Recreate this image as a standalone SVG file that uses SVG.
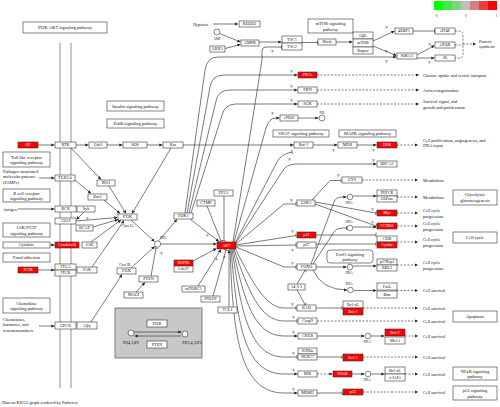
<svg xmlns="http://www.w3.org/2000/svg" width="500" height="407" viewBox="0 0 500 407">
<style>
.g{fill:#fff;stroke:#333;stroke-width:.6}
.r{fill:#ff0000;stroke:#333;stroke-width:.6}
.cp{fill:#fff;stroke:#333;stroke-width:.6}
.t{font-family:"Liberation Serif",serif;font-size:4.2px;text-anchor:middle;fill:#111}
.k{font-family:"Liberation Serif",serif;font-size:4.5px;text-anchor:middle;fill:#111}
.w{fill:#fff}
.s{font-family:"Liberation Serif",serif;font-size:4.3px;fill:#111}
.p{font-family:"Liberation Serif",serif;font-size:3.3px;fill:#111}
.c{fill:none;stroke:#333;stroke-width:.65}
.a{marker-end:url(#ar)}
.i{marker-end:url(#in)}
.d{stroke-dasharray:2 1.5}
</style>
<defs>
<marker id="ar" viewBox="0 0 10 10" refX="10" refY="5" markerWidth="3.2" markerHeight="3.2" orient="auto" markerUnits="userSpaceOnUse"><path d="M0,0L10,5L0,10z" fill="#222"/></marker>
<marker id="in" viewBox="0 0 4 10" refX="2" refY="5" markerWidth="1.6" markerHeight="4" orient="auto" markerUnits="userSpaceOnUse"><path d="M2,0V10" stroke="#222" stroke-width="1.5"/></marker>
</defs>
<rect width="500" height="407" fill="#fff"/>

<g id="legend">
<rect x="434" y="1" width="9" height="9" fill="#00ff00"/>
<rect x="443" y="1" width="9" height="9" fill="#3fe93f"/>
<rect x="452" y="1" width="9" height="9" fill="#7fd47f"/>
<rect x="461" y="1" width="9" height="9" fill="#bebebe"/>
<rect x="470" y="1" width="9" height="9" fill="#d47f7f"/>
<rect x="479" y="1" width="9" height="9" fill="#e93f3f"/>
<rect x="488" y="1" width="9" height="9" fill="#ff0000"/>
<text class="p" x="435" y="16.5">-1</text><text class="p" x="465" y="16.5">0</text><text class="p" x="495.5" y="16.5">1</text>
</g>

<g id="membrane" class="c">
<path d="M60,43V388M71,43V388" stroke="#555"/>
</g>

<g id="pathways">
<g id="pw_pi3k"><rect class="g" x="23" y="22" width="84" height="11"/><text class="k" x="65" y="29.2" font-size="4.8">PI3K-AKT signaling pathway</text></g>
<g id="pw_ins"><rect class="g" x="107" y="101" width="57" height="10"/><text class="k" x="135.5" y="107.5">Insulin signaling pathway</text></g>
<g id="pw_erbb"><rect class="g" x="107" y="119" width="57" height="9"/><text class="k" x="135.5" y="125">ErbB signaling pathway</text></g>
<g id="pw_mtor"><rect class="g" x="308" y="19" width="45" height="14"/><text class="k" x="330.5" y="25">mTOR signaling</text><text class="k" x="330.5" y="30.5">pathway</text></g>
<g id="pw_vegf"><rect class="g" x="273" y="130" width="56" height="7"/><text class="k" x="301" y="135">VEGF signaling pathway</text></g>
<g id="pw_mapk"><rect class="g" x="339" y="130" width="57" height="7"/><text class="k" x="367.5" y="135">MAPK signaling pathway</text></g>
<g id="pw_glyc"><rect class="g" x="453" y="190" width="44" height="15"/><text class="k" x="475" y="196">Glycolysis/</text><text class="k" x="475" y="201.5">gluconeogenesis</text></g>
<g id="pw_cc"><rect class="g" x="453" y="232" width="44" height="11"/><text class="k" x="475" y="239">Cell cycle</text></g>
<g id="pw_foxo"><rect class="g" x="327" y="250" width="46" height="13" rx="3"/><text class="k" x="350" y="255.5">FoxO signaling</text><text class="k" x="350" y="261">pathway</text></g>
<g id="pw_apop"><rect class="g" x="453" y="311" width="44" height="11"/><text class="k" x="475" y="318">Apoptosis</text></g>
<g id="pw_nfkb"><rect class="g" x="453" y="367" width="44" height="13"/><text class="k" x="475" y="372.5">NFκB signaling</text><text class="k" x="475" y="378">pathway</text></g>
<g id="pw_p53"><rect class="g" x="453" y="386" width="44" height="14"/><text class="k" x="475" y="392">p53 signaling</text><text class="k" x="475" y="397.5">pathway</text></g>
<g id="pw_tlr"><rect class="g" x="3" y="152" width="47" height="15"/><text class="k" x="26.5" y="158.5">Toll like receptor</text><text class="k" x="26.5" y="164">signaling pathway</text></g>
<g id="pw_bcr"><rect class="g" x="3" y="189" width="47" height="13"/><text class="k" x="26.5" y="194.5">B cell receptor</text><text class="k" x="26.5" y="200">signaling pathway</text></g>
<g id="pw_jak"><rect class="g" x="3" y="223" width="47" height="14"/><text class="k" x="26.5" y="229">JAK/STAT</text><text class="k" x="26.5" y="234.5">signaling pathway</text></g>
<g id="pw_fa"><rect class="g" x="3" y="253" width="47" height="9"/><text class="k" x="26.5" y="259">Focal adhesion</text></g>
<g id="pw_chem"><rect class="g" x="3" y="298" width="47" height="15"/><text class="k" x="26.5" y="304.5">Chemokine</text><text class="k" x="26.5" y="310">signaling pathway</text></g>
</g>

<g id="graybox">
<rect x="115" y="308" width="87" height="50" fill="#c8c8c8" stroke="#555" stroke-width=".7"/>
<g id="gb_pi3k"><rect class="g" x="147" y="320" width="20" height="7"/><text class="t" x="157" y="324.9">PI3K</text></g>
<g id="gb_pten"><rect class="g" x="147" y="341" width="20" height="7"/><text class="t" x="157" y="345.9">PTEN</text></g>
<g id="gb_pip2"><circle class="cp" cx="131" cy="333" r="3"/><text class="t" x="131" y="344" font-size="3.8">PI(4,5)P2</text></g>
<g id="gb_pip3"><circle class="cp" cx="185" cy="334" r="3"/><text class="t" x="192" y="344" font-size="3.8">PI(3,4,5)P3</text></g>
<path class="c a" d="M134,332H181.5"/>
<path class="c a" d="M181,336H134.5"/>
</g>

<g id="connectors" class="c">
<path class="a" d="M213,24H238"/>
<path class="a" d="M219.5,33.5L240.5,42"/>
<path class="a" d="M225,48.5L240.5,44.5"/>
<path class="a" d="M259,42H281.5"/>
<path class="i" d="M302,42.5H317.5"/>
<path class="a" d="M336,42H352.5"/>
<path class="a" d="M373,41L394.5,31"/>
<path class="a" d="M373,46L396.5,55.5"/>
<path class="i" d="M413,31H434.5"/>
<path class="a" d="M417,55L434.5,45.5"/>
<path class="a" d="M417,58H434.5"/>
<path class="d" d="M455,31H459Q463,31 463,35V54Q463,58 459,58H455M455,45H463"/>
<path class="d a" d="M463,44H476"/>
<path class="a" d="M298,118H318.5"/>
<path class="d a" d="M317,75H419"/>
<path class="d a" d="M317,90H419"/>
<path class="d a" d="M317,104H419"/>
<path class="a" d="M183,145H293.5"/>
<path class="a" d="M313,145H337.5"/>
<path class="a" d="M357,145H376.5"/>
<path class="d a" d="M397,145H418"/>
<path class="a" d="M185,213L205,70Q207,57 218,57H396.5"/>
<path class="a" d="M187,213L210,87Q212,75 224,75H297.5"/>
<path class="a" d="M189,213L216,101Q218,90 230,90H297.5"/>
<path class="a" d="M191,213L222,115Q225,104 236,104H297.5"/>
<path class="i" d="M233,242L262,60V51Q262,47 266,47H281.5"/>
<path class="a" d="M234,242L266,128Q269,118 276,118H279.5"/>
<path class="i" d="M235,243L277,162Q281,154 292,152"/>
<path class="a" d="M235,244L282,172Q286,164 296,164H376.5"/>
<path class="i" d="M236,244L284,204H296"/>
<path class="i" d="M236,245L296,235.5"/>
<path class="i" d="M236,246L296,245"/>
<path class="i" d="M236,247L284,267H296"/>
<path class="i" d="M235,248C252,282 266,308 284,308H296"/>
<path class="i" d="M234,249C248,290 260,321 284,321H297"/>
<path class="a" d="M233,249C244,300 254,336 284,336H297.5"/>
<path class="i" d="M232,249C241,310 249,357 284,357H297"/>
<path class="a" d="M231,249C237,320 243,374 284,374H297.5"/>
<path class="a" d="M230,249C233,330 238,393 284,393H297.5"/>
<path class="a" d="M38,145H54.5"/>
<path class="a" d="M76,145H88.5"/>
<path class="a" d="M107,145H122.5"/>
<path class="a" d="M147,145H162.5"/>
<path class="a" d="M71,148L101,179.5"/>
<path class="a" d="M109,186L126,213.5"/>
<path class="a" d="M171,148L132,213.5"/>
<path class="a" d="M39,178H54.5"/>
<path class="a" d="M75,180L91,193.5"/>
<path class="a" d="M104,200L120,213.5"/>
<path class="a" d="M18,209H54.5"/>
<path class="a" d="M84,212L76.5,219.5"/>
<path class="a" d="M76,221L117.5,217.5"/>
<path class="a" d="M93,227L118,219.5"/>
<path class="a" d="M50,245H54.5"/>
<path class="a" d="M91,242L121,220"/>
<path class="a" d="M38,270H54.5"/>
<path class="a" d="M92,267L124,220.5"/>
<path class="a" d="M39,326H54.5"/>
<path class="a" d="M91,322L122,274.5"/>
<path class="a" d="M131,220L154.5,241.5"/>
<path class="a" d="M131,268L154.5,246.5"/>
<path class="i" d="M151,276L156,248"/>
<path class="a" d="M136,292L145,282.5"/>
<path class="a" d="M159,240.5L177,219.5"/>
<path class="a" d="M160.5,244H216.5"/>
<path class="a" d="M190,219L219,241.5"/>
<path class="i" d="M207,206L221,241"/>
<path class="i" d="M224,196V241"/>
<path class="a" d="M193,261L216.5,248.5"/>
<path class="a" d="M198,286L221,249.5"/>
<path class="i" d="M213,296L226,250"/>
<path class="a" d="M229,307V250"/>
<path class="i" d="M312,200L330,180.5H341"/>
<path class="i" d="M315,202L376,213"/>
<path class="i" d="M315,204L376,226"/>
<path class="a" d="M311,264L334,202Q336,197 342,197H346.5"/>
<path class="a" d="M353,196H376.5"/>
<path class="i" d="M313,264L334,232Q336,228 342,228H346.5"/>
<path class="a" d="M353,227H376.5"/>
<path class="a" d="M316,267H346.5"/>
<path class="a" d="M353,266H376.5"/>
<path class="a" d="M313,270Q322,290 347,290"/>
<path class="a" d="M354,290.5H376.5"/>
<path class="i" d="M316,235H376"/>
<path class="i" d="M316,244H376"/>
<path class="i" d="M297,284L305,270.5"/>
<path class="i" d="M297,290L305,304.5"/>
<path class="i" d="M316,308H342"/>
<path class="a" d="M317,336H364.5"/>
<path class="a" d="M371,336H384.5"/>
<path class="i" d="M317,357H342"/>
<path class="d a" d="M317,374H332.5"/>
<path class="a" d="M352,374H364.5"/>
<path class="a" d="M371,374H384.5"/>
<path class="i" d="M317,393H342"/>
<path class="d a" d="M362,180H418"/>
<path class="d a" d="M397,197H418"/>
<path class="d a" d="M397,213H418"/>
<path class="d a" d="M397,226H418"/>
<path class="d a" d="M397,242H418"/>
<path class="d a" d="M397,265H418"/>
<path class="d a" d="M397,290.5H418"/>
<path class="d a" d="M363,308H418"/>
<path class="d a" d="M317,321H418"/>
<path class="d a" d="M405,336H418"/>
<path class="d a" d="M363,357H418"/>
<path class="d a" d="M405,374H418"/>
<path class="d a" d="M363,392H418"/>
</g>

<g id="plabels" class="p">
<text x="384" y="28">+p</text><text x="384" y="52">+p</text><text x="427" y="45">+p</text><text x="427" y="63">+p</text>
<text x="384" y="62">+p</text><text x="289" y="72">+p</text><text x="289" y="87">+p</text><text x="289" y="101">+p</text>
<text x="270" y="52">+p</text><text x="270" y="114">+p</text><text x="287" y="160">+p</text><text x="371" y="161">+p</text>
<text x="331" y="151">+p</text><text x="371" y="151">+p</text>
<text x="289" y="201">+p</text><text x="290" y="232">+p</text><text x="290" y="251">+p</text><text x="290" y="264">+p</text>
<text x="290" y="305">+p</text><text x="291" y="318">+p</text><text x="291" y="333">+p</text><text x="291" y="354">+p</text><text x="291" y="371">+p</text><text x="291" y="390">+p</text>
<text x="85" y="219">+p</text><text x="159" y="254">+p</text><text x="205" y="236">+p</text><text x="214" y="260">+p</text><text x="222" y="258">+p</text>
<text x="336" y="176">+p</text><text x="370" y="210">+p</text><text x="370" y="223">+p</text>
</g>

<g id="n_hypoxia"><text class="s" x="193" y="25.5">Hypoxia</text></g>
<g id="n_REDD1"><rect class="g" x="239" y="21" width="21" height="6"/><text class="t" x="249.5" y="25.4">REDD1</text></g>
<g id="n_AMP"><circle class="cp" cx="217" cy="32" r="3"/><text class="p" x="217" y="39.5" text-anchor="middle">AMP</text></g>
<g id="n_LKB1"><rect class="g" x="210" y="46" width="15" height="6"/><text class="t" x="217.5" y="50.4">LKB1</text></g>
<g id="n_AMPK"><rect class="g" x="241" y="40" width="18" height="6"/><text class="t" x="250" y="44.4">AMPK</text></g>
<g id="n_TSC"><rect class="g" x="282" y="36" width="20" height="7"/><text class="t" x="292" y="40.9">TSC1</text><rect class="g" x="282" y="43" width="20" height="7"/><text class="t" x="292" y="47.9">TSC2</text></g>
<g id="n_Rheb"><rect class="g" x="318" y="39" width="18" height="6"/><text class="t" x="327" y="43.4">Rheb</text></g>
<g id="n_mTOR"><rect class="g" x="353" y="32" width="20" height="7"/><text class="t" x="363" y="36.9">GβL</text><rect class="g" x="353" y="39" width="20" height="8"/><text class="t" x="363" y="44.4">mTOR</text><rect class="g" x="353" y="47" width="20" height="7"/><text class="t" x="363" y="51.9">Raptor</text></g>
<g id="n_4EBP1"><rect class="g" x="395" y="28" width="18" height="6"/><text class="t" x="404" y="32.4">4EBP1</text></g>
<g id="n_S6K"><rect class="g" x="397" y="53" width="20" height="6"/><text class="t" x="407" y="57.4">S6K1/2</text></g>
<g id="n_eIF4E"><rect class="g" x="435" y="28" width="20" height="6"/><text class="t" x="445" y="32.4">eIF4E</text></g>
<g id="n_eIF4B"><rect class="g" x="435" y="42" width="20" height="6"/><text class="t" x="445" y="46.4">eIF4B</text></g>
<g id="n_S6"><rect class="g" x="435" y="55" width="20" height="6"/><text class="t" x="445" y="59.4">S6</text></g>
<g id="n_protein"><text class="s" x="479" y="42.5">Protein</text><text class="s" x="479" y="48">synthesis</text></g>
<g id="n_PKCs"><rect class="r" x="298" y="72" width="19" height="6"/><text class="t w" x="307.5" y="76.4">PKCs</text></g>
<g id="n_PKN"><rect class="g" x="298" y="87" width="19" height="6"/><text class="t" x="307.5" y="91.4">PKN</text></g>
<g id="n_SGK"><rect class="g" x="298" y="101" width="19" height="6"/><text class="t" x="307.5" y="105.4">SGK</text></g>
<g id="n_eNOS"><rect class="g" x="280" y="115" width="18" height="6"/><text class="t" x="289" y="119.4">eNOS</text></g>
<g id="n_NO"><circle class="cp" cx="322" cy="118" r="3"/><text class="p" x="322" y="113.5" text-anchor="middle">NO</text></g>
<g id="n_Raf1"><rect class="g" x="294" y="142" width="19" height="6"/><text class="t" x="303.5" y="146.4">Raf-1</text></g>
<g id="n_MEK"><rect class="g" x="338" y="142" width="19" height="6"/><text class="t" x="347.5" y="146.4">MEK</text></g>
<g id="n_ERK"><rect class="r" x="377" y="142" width="20" height="6"/><text class="t w" x="387" y="146.4">ERK</text></g>
<g id="n_BRCA1"><rect class="g" x="377" y="161" width="20" height="6"/><text class="t" x="387" y="165.4">BRCA1</text></g>
<g id="n_GYS"><rect class="g" x="342" y="177" width="20" height="6"/><text class="t" x="352" y="181.4">GYS</text></g>
<g id="n_PEPCK"><rect class="g" x="377" y="190" width="20" height="6"/><text class="t" x="387" y="194.4">PEPCK</text><rect class="g" x="377" y="196" width="20" height="6"/><text class="t" x="387" y="200.4">G6Pase</text></g>
<g id="n_Myc"><rect class="r" x="377" y="210" width="20" height="6"/><text class="t w" x="387" y="214.4">Myc</text></g>
<g id="n_CCND1"><rect class="r" x="377" y="223" width="20" height="6"/><text class="t w" x="387" y="227.4">CCND1</text></g>
<g id="n_CDK"><rect class="g" x="377" y="236" width="20" height="6"/><text class="t" x="387" y="240.4">CDK</text><rect class="r" x="377" y="242" width="20" height="6"/><text class="t w" x="387" y="246.4">Cyclin</text></g>
<g id="n_p27Kip1"><rect class="g" x="377" y="259" width="20" height="6"/><text class="t" x="387" y="263.4">p27Kip1</text><rect class="g" x="377" y="265" width="20" height="6"/><text class="t" x="387" y="269.4">RBL2</text></g>
<g id="n_FasL"><rect class="g" x="377" y="283" width="20" height="7"/><text class="t" x="387" y="287.9">FasL</text><rect class="g" x="377" y="291" width="20" height="7"/><text class="t" x="387" y="295.9">Bim</text></g>
<g id="n_BclxL1"><rect class="g" x="343" y="301" width="20" height="7"/><text class="t" x="353" y="305.9">Bcl-xL</text><rect class="r" x="343" y="308" width="20" height="7"/><text class="t w" x="353" y="312.9">Bcl-2</text></g>
<g id="n_Bcl2b"><rect class="r" x="385" y="329" width="20" height="7"/><text class="t w" x="395" y="333.9">Bcl-2</text><rect class="g" x="385" y="337" width="20" height="7"/><text class="t" x="395" y="341.9">Mcl-1</text></g>
<g id="n_Bcl2c"><rect class="r" x="343" y="354" width="20" height="7"/><text class="t w" x="353" y="358.9">Bcl-2</text></g>
<g id="n_NFkB"><rect class="r" x="333" y="371" width="19" height="6"/><text class="t w" x="342.5" y="375.4">NFκB</text></g>
<g id="n_BclxL2"><rect class="g" x="385" y="367" width="20" height="7"/><text class="t" x="395" y="371.9">Bcl-xL</text><rect class="g" x="385" y="374" width="20" height="7"/><text class="t" x="395" y="378.9">c-IAPs</text></g>
<g id="n_p53"><rect class="r" x="343" y="389" width="20" height="6"/><text class="t w" x="353" y="393.4">p53</text></g>

<g id="n_DNA">
<circle class="cp" cx="350" cy="197" r="2.8"/><text class="p" x="349" y="204" text-anchor="middle">DNA</text>
<circle class="cp" cx="350" cy="228" r="2.8"/><text class="p" x="349" y="222.5" text-anchor="middle">DNA</text>
<circle class="cp" cx="350" cy="267" r="2.8"/><text class="p" x="349" y="274" text-anchor="middle">DNA</text>
<circle class="cp" cx="350.5" cy="290" r="2.8"/><text class="p" x="349" y="285" text-anchor="middle">DNA</text>
<circle class="cp" cx="368" cy="336" r="2.8"/><text class="p" x="367" y="343" text-anchor="middle">DNA</text>
<circle class="cp" cx="368" cy="374" r="2.8"/><text class="p" x="367" y="381" text-anchor="middle">DNA</text>
</g>

<g id="n_GF"><rect class="r" x="18" y="142" width="20" height="6"/><text class="t w" x="28" y="146.4">GF</text></g>
<g id="n_RTK"><rect class="g" x="55" y="142" width="21" height="6"/><text class="t" x="65.5" y="146.4">RTK</text></g>
<g id="n_Grb2"><rect class="g" x="89" y="142" width="18" height="6"/><text class="t" x="98" y="146.4">Grb2</text></g>
<g id="n_SOS"><rect class="g" x="123" y="142" width="24" height="6"/><text class="t" x="135" y="146.4">SOS</text></g>
<g id="n_Ras"><rect class="g" x="163" y="142" width="20" height="6"/><text class="t" x="173" y="146.4">Ras</text></g>
<g id="n_PAMPs"><text class="s" x="3" y="172.5">Pathogen-associated</text><text class="s" x="3" y="178">molecular patterns</text><text class="s" x="3" y="183.5">(PAMPs)</text></g>
<g id="n_TLR"><rect class="g" x="55" y="175" width="20" height="6"/><text class="t" x="65" y="179.4">TLR2/4</text></g>
<g id="n_IRS1"><rect class="g" x="97" y="180" width="18" height="6"/><text class="t" x="106" y="184.4">IRS1</text></g>
<g id="n_Rac1"><rect class="g" x="88" y="194" width="19" height="6"/><text class="t" x="97.5" y="198.4">Rac1</text></g>
<g id="n_Antigen"><text class="s" x="3" y="210.5">Antigen</text></g>
<g id="n_BCR"><rect class="g" x="55" y="206" width="21" height="6"/><text class="t" x="65.5" y="210.4">BCR</text></g>
<g id="n_Syk"><rect class="g" x="77" y="206" width="18" height="6"/><text class="t" x="86" y="210.4">Syk</text></g>
<g id="n_CD19"><rect class="g" x="55" y="218" width="21" height="6"/><text class="t" x="65.5" y="222.4">CD19</text></g>
<g id="n_BCAP"><rect class="g" x="76" y="225" width="17" height="6"/><text class="t" x="84.5" y="229.4">BCAP</text></g>
<g id="n_PI3K_IA"><rect class="g" x="118" y="214" width="19" height="6"/><text class="t" x="127.5" y="218.4">PI3K</text><text class="p" x="122" y="226.5">Class IA</text></g>
<g id="n_Cytokine"><rect class="g" x="3" y="242" width="47" height="6"/><text class="t" x="26.5" y="246.4">Cytokine</text></g>
<g id="n_CytokineR"><rect class="r" x="55" y="242" width="24" height="6"/><text class="t w" x="67" y="246.4">CytokineR</text></g>
<g id="n_JAK"><rect class="g" x="82" y="242" width="15" height="6"/><text class="t" x="89.5" y="246.4">JAK</text></g>
<g id="n_ECM"><rect class="r" x="18" y="267" width="20" height="6"/><text class="t w" x="28" y="271.4">ECM</text></g>
<g id="n_ITG"><rect class="g" x="55" y="264" width="21" height="6"/><text class="t" x="65.5" y="268.4">ITGA</text><rect class="g" x="55" y="270" width="21" height="6"/><text class="t" x="65.5" y="274.4">ITGB</text></g>
<g id="n_FAK"><rect class="g" x="77" y="267" width="20" height="6"/><text class="t" x="87" y="271.4">FAK</text></g>
<g id="n_Chemokines"><text class="s" x="3" y="320.5">Chemokines,</text><text class="s" x="3" y="326">hormones, and</text><text class="s" x="3" y="331.5">neurotransmitters</text></g>
<g id="n_GPCR"><rect class="g" x="55" y="322" width="21" height="7"/><text class="t" x="65.5" y="326.9">GPCR</text></g>
<g id="n_Gbg"><rect class="g" x="77" y="322" width="20" height="7"/><text class="t" x="87" y="326.9">Gβγ</text></g>
<g id="n_PI3K_IB"><text class="p" x="119" y="266">Class IB</text><rect class="g" x="117" y="268" width="19" height="6"/><text class="t" x="126.5" y="272.4">PI3K</text></g>
<g id="n_PTEN"><rect class="g" x="139" y="276" width="19" height="6"/><text class="t" x="148.5" y="280.4">PTEN</text></g>
<g id="n_MAGI"><rect class="g" x="124" y="292" width="19" height="6"/><text class="t" x="133.5" y="296.4">MAGI</text></g>
<g id="n_PIP3"><circle class="cp" cx="157.5" cy="244" r="3.2"/><text class="p" x="160" y="239">PIP3</text></g>
<g id="n_PDK1"><rect class="g" x="174" y="213" width="19" height="6"/><text class="t" x="183.5" y="217.4">PDK1</text></g>
<g id="n_AKT"><rect class="r" x="217" y="242" width="19" height="7"/><text class="t w" x="226.5" y="246.9">AKT</text></g>
<g id="n_HSP90"><rect class="r" x="174" y="260" width="19" height="6"/><text class="t w" x="183.5" y="264.4">HSP90</text><rect class="g" x="174" y="266" width="19" height="6"/><text class="t" x="183.5" y="270.4">Cdc37</text></g>
<g id="n_CTMP"><rect class="g" x="197" y="200" width="18" height="6"/><text class="t" x="206" y="204.4">CTMP</text></g>
<g id="n_PP2A"><rect class="g" x="214" y="190" width="19" height="6"/><text class="t" x="223.5" y="194.4">PP2A</text></g>
<g id="n_mTORC2"><rect class="g" x="182" y="286" width="23" height="6"/><text class="t" x="193.5" y="290.4">mTORC2</text></g>
<g id="n_PHLPP"><rect class="g" x="201" y="296" width="19" height="6"/><text class="t" x="210.5" y="300.4">PHLPP</text></g>
<g id="n_TCL1"><rect class="g" x="218" y="307" width="19" height="6"/><text class="t" x="227.5" y="311.4">TCL1</text></g>
<g id="n_GSK3"><rect class="g" x="297" y="200" width="18" height="6"/><text class="t" x="306" y="204.4">GSK3</text></g>
<g id="n_p21"><rect class="r" x="297" y="232" width="19" height="6"/><text class="t w" x="306.5" y="236.4">p21</text></g>
<g id="n_p27"><rect class="g" x="297" y="242" width="19" height="6"/><text class="t" x="306.5" y="246.4">p27</text></g>
<g id="n_FOXO"><rect class="g" x="297" y="264" width="19" height="6"/><text class="t" x="306.5" y="268.4">FOXO</text></g>
<g id="n_1433"><rect class="g" x="288" y="284" width="17" height="6"/><text class="t" x="296.5" y="288.4">14-3-3</text></g>
<g id="n_BAD"><rect class="g" x="297" y="305" width="19" height="6"/><text class="t" x="306.5" y="309.4">BAD</text></g>
<g id="n_Casp9"><rect class="g" x="298" y="318" width="19" height="6"/><text class="t" x="307.5" y="322.4">Casp9</text></g>
<g id="n_CREB"><rect class="g" x="298" y="333" width="19" height="6"/><text class="t" x="307.5" y="337.4">CREB</text></g>
<g id="n_NUR77"><rect class="g" x="298" y="348" width="19" height="6"/><text class="t" x="307.5" y="352.4">RXRα</text><rect class="g" x="298" y="354" width="19" height="6"/><text class="t" x="307.5" y="358.4">NUR77</text></g>
<g id="n_IKK"><rect class="g" x="298" y="371" width="19" height="6"/><text class="t" x="307.5" y="375.4">IKK</text></g>
<g id="n_MDM2"><rect class="g" x="298" y="390" width="19" height="6"/><text class="t" x="307.5" y="394.4">MDM2</text></g>

<g id="outcomes" class="s">
<text x="423" y="76.5">Glucose uptake and vesicle transport</text>
<text x="423" y="91.5">Actin reorganization</text>
<text x="423" y="103">Survival signal, and</text><text x="423" y="108.5">growth and proliferation</text>
<text x="423" y="141.5">Cell proliferation, angiogenesis, and</text><text x="423" y="147">DNA repair</text>
<text x="423" y="181.5">Metabolism</text>
<text x="423" y="199">Metabolism</text>
<text x="423" y="212">Cell cycle</text><text x="423" y="217.5">progression</text>
<text x="423" y="225">Cell cycle</text><text x="423" y="230.5">progression</text>
<text x="423" y="241">Cell cycle</text><text x="423" y="246.5">progression</text>
<text x="423" y="264">Cell cycle</text><text x="423" y="269.5">progression</text>
<text x="423" y="292">Cell survival</text>
<text x="423" y="309.5">Cell survival</text>
<text x="423" y="322.5">Cell survival</text>
<text x="423" y="337.5">Cell survival</text>
<text x="423" y="358.5">Cell survival</text>
<text x="423" y="375.5">Cell survival</text>
<text x="423" y="393.5">Cell survival</text>
</g>

<text class="s" x="2" y="403.5">Data on KEGG graph rendered by Pathview</text>
</svg>
